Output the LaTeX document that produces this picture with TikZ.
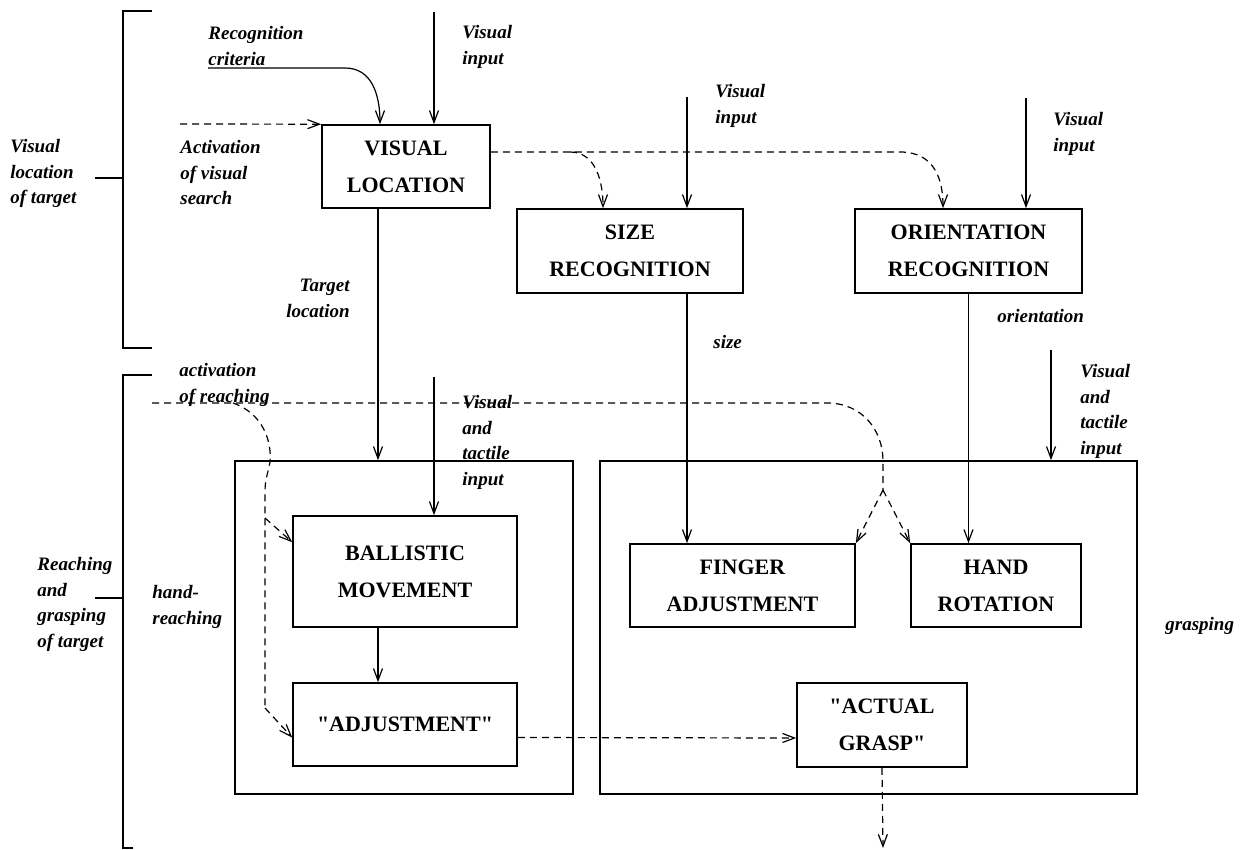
\documentclass[tikz,border=0pt]{standalone}
\usepackage{fontspec}
\setmainfont{Liberation Serif}
\newfontfamily\boxfont{Liberation Serif}
\usetikzlibrary{arrows.meta}

\begin{document}
\begin{tikzpicture}[x=0.5pt,y=-0.5pt,
    box/.style={draw,line width=0.8pt,inner sep=0pt,align=center,
      font=\boxfont\bfseries\fontsize{11}{18.5}\selectfont},
    lbl/.style={inner sep=0pt,align=left,anchor=north west,
      font=\bfseries\itshape\fontsize{9.5}{12.8}\selectfont},
    flow/.style={line width=0.6pt,-{Straight Barb[length=6pt,width=4.5pt]}},
    dsh/.style={line width=0.6pt,dash pattern=on 3.5pt off 2.5pt},
    act/.style={dsh,-{Straight Barb[length=6pt,width=4.5pt]}},
    brk/.style={line width=1.3pt}]
      \useasboundingbox (0,0) rectangle (1247,850);

      \draw[brk] (152,11) -- (123,11) -- (123,348) -- (152,348) (95,178) -- (123,178);
      \draw[brk] (152,375) -- (123,375) -- (123,848) -- (133,848) (95,598) -- (123,598);

      \node[box,minimum width=169pt,minimum height=166.5pt] (reachbox) at (404,627.5) {};
      \node[box,minimum width=268.5pt,minimum height=166.5pt] (graspbox) at (868.5,627.5) {};

      \node[box,minimum width=84pt,minimum height=41.5pt] (visloc) at (406,166.5) {VISUAL\\LOCATION};
      \node[box,minimum width=113pt,minimum height=42pt] (sizerec) at (630,251) {SIZE\\RECOGNITION};
      \node[box,minimum width=113.5pt,minimum height=42pt] (orirec) at (968.5,251) {ORIENTATION\\RECOGNITION};
      \node[box,minimum width=112pt,minimum height=55.5pt] (ballistic) at (405,571.5) {BALLISTIC\\MOVEMENT};
      \node[box,minimum width=112pt,minimum height=41.5pt] (adjust) at (405,724.5) {"ADJUSTMENT"};
      \node[box,minimum width=112.5pt,minimum height=41.5pt] (finger) at (742.5,585.5) {FINGER\\ADJUSTMENT};
      \node[box,minimum width=85pt,minimum height=41.5pt] (handrot) at (996,585.5) {HAND\\ROTATION};
      \node[box,minimum width=85pt,minimum height=42pt] (actual) at (882,725) {"ACTUAL\\GRASP"};

      \node[lbl] (lvisloc) at (10,139) {Visual\\location\\of target};
      \node[lbl] (lreach) at (37,557) {Reaching\\and\\grasping\\of target};
      \node[lbl] (lhand) at (152,585) {hand-\\reaching};
      \node[lbl] (lgrasp) at (1165,617) {grasping};
      \node[lbl] (lcrit) at (208,26) {Recognition\\criteria};
      \node[lbl] (lact) at (180,140) {Activation\\of visual\\search};
      \node[lbl,anchor=north east,align=right] (ltarget) at (350,279) {Target\\location};
      \node[lbl] (lsize) at (713,335) {size};
      \node[lbl] (lori) at (997,309) {orientation};
      \node[lbl] (lareach) at (179,363) {activation\\of reaching};

      \foreach \n/\x/\y/\t/\lx/\ly in {1/434/12/visloc/462/25, 2/687/97/sizerec/715/84, 3/1026/98/orirec/1053/112} {
        \coordinate (vin\n) at (\x,\y);
        \node[lbl] (lvin\n) at (\lx,\ly) {Visual\\input};
        \draw[flow] (vin\n) -- (vin\n |- \t.north);
      }
      \coordinate (tin1) at (434,377);
      \coordinate (tin2) at (1051,350);
      \node[lbl] (ltin1) at (462,395) {Visual\\and\\tactile\\input};
      \node[lbl] (ltin2) at (1080,364) {Visual\\and\\tactile\\input};
      \draw[flow] (tin1) -- (tin1 |- ballistic.north);
      \draw[flow] (tin2) -- (tin2 |- graspbox.north);

      \coordinate (crit) at (208,68);
      \draw[flow] (crit) -- (345,68) .. controls (372,68) and (380,95) .. ([xshift=-13pt]visloc.north);
      \coordinate (actsrc) at (180,124);
      \draw[act] (actsrc) -- (visloc.north west);

      \coordinate (sbr) at (570,152);
      \draw[act] ([yshift=7.25pt]visloc.east) -- (900,152) .. controls (935,152) and (943,180) .. ([xshift=-12.75pt]orirec.north);
      \draw[act] (sbr) .. controls (596,152) and (603,182) .. ([xshift=-13.5pt]sizerec.north);

      \coordinate (tloc) at ([xshift=-14pt]visloc.south);
      \draw[flow] (tloc) -- (tloc |- reachbox.north);
      \draw[flow] (sizerec.south -| vin2) -- (finger.north -| vin2);
      \draw[flow] (orirec.south) -- (orirec.south |- handrot.north);
      \coordinate (bal) at ([xshift=-13.5pt]ballistic.south);
      \draw[flow] (bal) -- (bal |- adjust.north);

      \coordinate (reachsrc) at (152,403);
      \coordinate (gj) at (883,490);
      \draw[dsh] (reachsrc) -- (827,403) .. controls (862,403) and (883,430) .. (883,461) -- (gj);
      \draw[act] (gj) -- (finger.north east);
      \draw[act] (gj) -- (handrot.north west);

      \coordinate (rj) at (265,708);
      \coordinate (bj) at (265,518);
      \draw[dsh] (233,403) .. controls (262,413) and (272,440) .. (270,462) .. controls (268,474) and (265,478) .. (265,492) -- (rj);
      \draw[act] (bj) -- ([yshift=-13.5pt]ballistic.north west);
      \draw[act] (rj) -- ([yshift=-6.5pt]adjust.west);

      \draw[act] ([yshift=-6.5pt]adjust.east) -- ([yshift=-6.5pt]actual.west);
      \coordinate (gout) at (883,848);
      \draw[act] (actual.south) -- (gout);
    \end{tikzpicture}
\end{document}
